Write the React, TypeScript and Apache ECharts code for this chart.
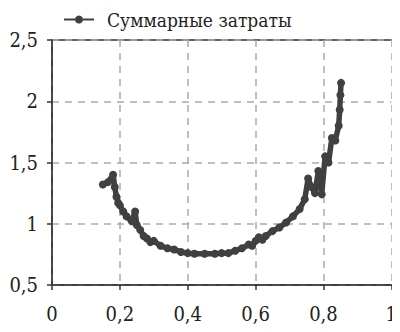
import React, { useEffect, useRef } from "react";
import * as echarts from "echarts";

const seriesName = "Суммарные затраты";
const xValues = [
  0.15, 0.165, 0.18, 0.185, 0.19, 0.195, 0.2, 0.21, 0.22, 0.235, 0.245, 0.25, 0.26, 0.27,
  0.28, 0.29, 0.3, 0.32, 0.34, 0.36, 0.38, 0.4, 0.42, 0.45, 0.48, 0.5, 0.52, 0.54, 0.56,
  0.58, 0.59, 0.6, 0.61, 0.62, 0.63, 0.65, 0.67, 0.69, 0.71, 0.73, 0.745, 0.755, 0.765,
  0.775, 0.785, 0.795, 0.805, 0.815, 0.825, 0.835, 0.845, 0.848, 0.85, 0.852,
];
const yValues = [
  1.32, 1.34, 1.4, 1.3, 1.22, 1.17, 1.15, 1.1, 1.06, 1.02, 1.1, 0.99, 0.95, 0.9,
  0.88, 0.85, 0.86, 0.82, 0.8, 0.79, 0.77, 0.76, 0.755, 0.755, 0.755, 0.76, 0.76, 0.78, 0.8,
  0.83, 0.82, 0.86, 0.89, 0.87, 0.9, 0.94, 0.97, 1.01, 1.06, 1.12, 1.2, 1.37, 1.3,
  1.25, 1.43, 1.24, 1.55, 1.5, 1.7, 1.68, 1.8, 1.93, 2.05, 2.15,
];
const xTicks = [0, 0.2, 0.4, 0.6, 0.8, 1];
const yTicks = [0.5, 1, 1.5, 2, 2.5];

const fmt = (v: number) => String(+v.toFixed(2)).replace(".", ",");

export default function App() {
  const ref = useRef<HTMLDivElement>(null);
  useEffect(() => {
    if (!ref.current) return;
    const chart = echarts.init(ref.current, undefined, { renderer: "svg" });
    const font = "DejaVu Serif Condensed, DejaVu Serif";
    chart.setOption({
      animation: false,
      backgroundColor: "#ffffff",
      textStyle: { fontFamily: font },
      legend: {
        left: 58,
        top: 5,
        itemWidth: 30,
        itemHeight: 10,
        data: [seriesName],
        textStyle: { fontFamily: font, fontSize: 19, color: "#222", padding: [0, 0, 0, 8] },
      },
      grid: { left: 52, right: 5, top: 40, bottom: 47 },
      xAxis: {
        type: "value",
        min: xTicks[0],
        max: xTicks[xTicks.length - 1],
        interval: 0.2,
        axisLine: { show: true, onZero: false, lineStyle: { color: "#333", width: 1.5 } },
        axisTick: { show: true, length: 5, lineStyle: { color: "#333", width: 1.5 } },
        axisLabel: { formatter: fmt, fontFamily: font, fontSize: 20, color: "#222", margin: 19 },
        splitLine: { show: true, lineStyle: { color: "#aaa", type: [7, 6], width: 1.5 } },
      },
      yAxis: {
        type: "value",
        min: yTicks[0],
        max: yTicks[yTicks.length - 1],
        interval: 0.5,
        axisLine: { show: true, onZero: false, lineStyle: { color: "#333", width: 1.5 } },
        axisTick: { show: true, length: 5, lineStyle: { color: "#333", width: 1.5 } },
        axisLabel: { formatter: fmt, fontFamily: font, fontSize: 20, color: "#222", margin: 14 },
        splitLine: { show: true, lineStyle: { color: "#aaa", type: [7, 6], width: 1.5 } },
      },
      series: [
        {
          name: seriesName,
          type: "line",
          data: xValues.map((x, i) => [x, yValues[i]]),
          symbol: "circle",
          symbolSize: 8,
          showAllSymbol: true,
          lineStyle: { color: "#404040", width: 5.5 },
          itemStyle: { color: "#404040" },
        },
      ],
      graphic: [
        {
          type: "rect",
          shape: { x: 52, y: 40, width: 343, height: 245 },
          style: { fill: "none", stroke: "#333", lineWidth: 1.5 },
          silent: true,
        },
      ],
    });
    return () => chart.dispose();
  }, []);
  return <div ref={ref} style={{ width: 400, height: 332, margin: -8 }} />;
}
